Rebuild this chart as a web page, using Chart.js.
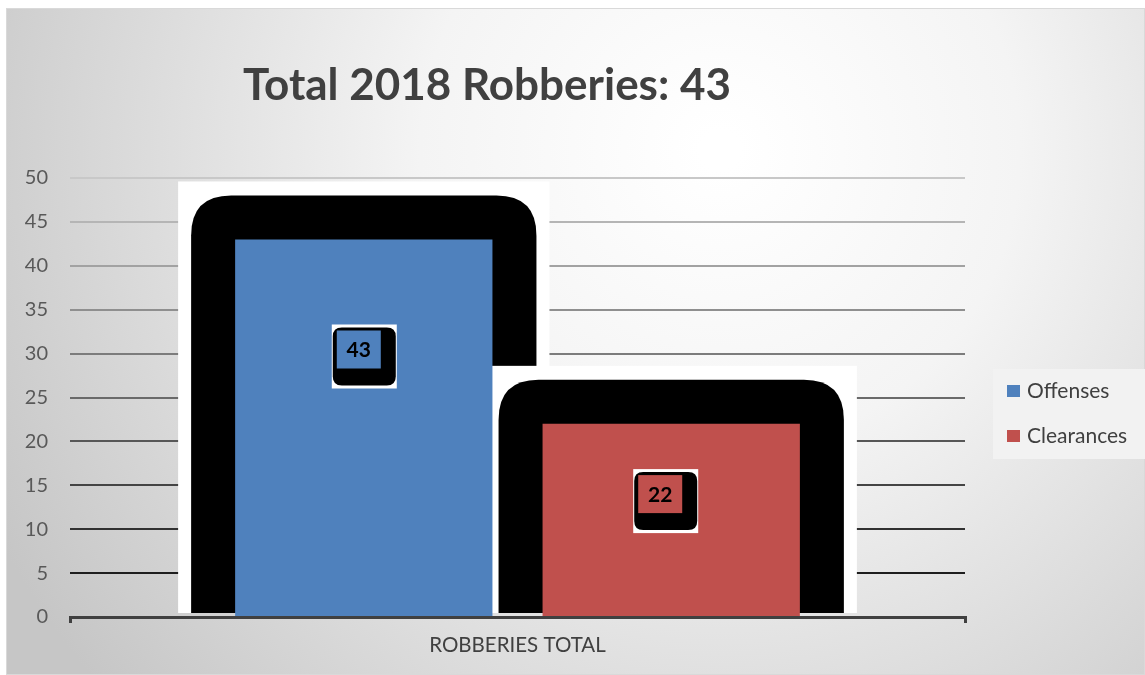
<!DOCTYPE html>
<html lang="en">
<head>
  <meta charset="UTF-8">
  <title>Total 2018 Robberies</title>
  <script src="https://cdn.jsdelivr.net/npm/chart.js"></script>
  <style>
    body { margin: 0; background: #fff; }
    canvas { display: block; }
  </style>
</head>
<body>
  <canvas id="grafico" width="1145" height="675"></canvas>
  <script>
    const categorias = ['ROBBERIES TOTAL'];
    const series = ['Offenses', 'Clearances'];
    const offenses = [43];
    const clearances = [22];
    const cores = ['#4F81BD', '#C0504D'];
    const yTicks = [0, 5, 10, 15, 20, 25, 30, 35, 40, 45, 50];
    // where the value box sits along each bar (fraction of bar height from the base)
    const labelAt = [0.69, 0.6];

    const FONTE = 'Lato, "Open Sans", sans-serif';

    function roundTop(ctx, x1, y1, x2, y2, r) {
      ctx.beginPath();
      ctx.moveTo(x1, y2);
      ctx.lineTo(x1, y1 + r);
      ctx.quadraticCurveTo(x1, y1, x1 + r, y1);
      ctx.lineTo(x2 - r, y1);
      ctx.quadraticCurveTo(x2, y1, x2, y1 + r);
      ctx.lineTo(x2, y2);
      ctx.closePath();
    }

    function roundRect(ctx, x1, y1, x2, y2, r) {
      ctx.beginPath();
      ctx.moveTo(x1 + r, y1);
      ctx.lineTo(x2 - r, y1);
      ctx.quadraticCurveTo(x2, y1, x2, y1 + r);
      ctx.lineTo(x2, y2 - r);
      ctx.quadraticCurveTo(x2, y2, x2 - r, y2);
      ctx.lineTo(x1 + r, y2);
      ctx.quadraticCurveTo(x1, y2, x1, y2 - r);
      ctx.lineTo(x1, y1 + r);
      ctx.quadraticCurveTo(x1, y1, x1 + r, y1);
      ctx.closePath();
    }

    const moldura = {
      id: 'moldura',
      beforeDraw(chart) {
        const ctx = chart.ctx;
        ctx.save();
        const g = ctx.createRadialGradient(720, 150, 20, 720, 150, 820);
        g.addColorStop(0, '#ffffff');
        g.addColorStop(0.35, '#f4f4f4');
        g.addColorStop(1, '#c6c6c6');
        ctx.fillStyle = g;
        ctx.fillRect(6, 8, 1139, 667);
        ctx.strokeStyle = '#d9d9d9';
        ctx.lineWidth = 1;
        ctx.strokeRect(6.5, 8.5, 1138, 666);

        // title
        ctx.fillStyle = '#404040';
        ctx.font = 'bold 44px ' + FONTE;
        ctx.textAlign = 'center';
        ctx.textBaseline = 'middle';
        ctx.fillText('Total 2018 Robberies: 43', 487, 86);

        // legend
        ctx.fillStyle = '#f2f2f2';
        ctx.fillRect(993, 369, 152, 90);
        ctx.font = '21px ' + FONTE;
        ctx.textAlign = 'left';
        const ys = [391, 436];
        series.forEach((s, i) => {
          ctx.fillStyle = cores[i];
          ctx.fillRect(1007, ys[i] - 6, 13, 12);
          ctx.fillStyle = '#404040';
          ctx.fillText(s, 1027, ys[i]);
        });
        ctx.restore();
      },
      beforeDatasetsDraw(chart) {
        const ctx = chart.ctx;
        const base = chart.chartArea.bottom - 4;
        ctx.save();
        chart.data.datasets.forEach((ds, i) => {
          chart.getDatasetMeta(i).data.forEach(bar => {
            const p = bar.getProps(['x', 'y', 'width'], true);
            const x1 = p.x - p.width / 2, x2 = p.x + p.width / 2;
            ctx.fillStyle = '#ffffff';
            ctx.fillRect(x1 - 57, p.y - 58, p.width + 114, base - p.y + 58);
            ctx.fillStyle = '#000000';
            roundTop(ctx, x1 - 44, p.y - 44, x2 + 44, base, 40);
            ctx.fill();
          });
        });
        ctx.restore();
      },
      afterDatasetsDraw(chart) {
        const ctx = chart.ctx;
        const y0 = chart.scales.y.getPixelForValue(0);
        ctx.save();
        chart.data.datasets.forEach((ds, i) => {
          chart.getDatasetMeta(i).data.forEach((bar, j) => {
            const p = bar.getProps(['x', 'y'], true);
            const cx = p.x + (i === 0 ? 1 : -5);
            const cy = y0 - (y0 - p.y) * labelAt[i];
            ctx.fillStyle = '#ffffff';
            ctx.fillRect(cx - 33, cy - 32, 65, 64);
            ctx.fillStyle = '#000000';
            roundRect(ctx, cx - 32, cy - 29, cx + 31, cy + 29, 9);
            ctx.fill();
            ctx.fillStyle = cores[i];
            ctx.fillRect(cx - 28, cy - 26, 44, 38);
            ctx.fillStyle = '#000000';
            ctx.font = 'bold 21px ' + FONTE;
            ctx.textAlign = 'center';
            ctx.textBaseline = 'middle';
            ctx.fillText(String(ds.data[j]), cx - 6, cy - 6);
          });
        });
        ctx.restore();
      }
    };

    function corGrade(ctx) {
      const v = ctx.tick ? ctx.tick.value : 0;
      if (v === 0) return 'rgba(0,0,0,0)';
      const n = Math.round(30 + (v - 5) / 45 * 170);
      return `rgb(${n},${n},${n})`;
    }

    new Chart(document.getElementById('grafico'), {
      type: 'bar',
      data: {
        labels: categorias,
        datasets: [
          { label: series[0], data: offenses, backgroundColor: cores[0] },
          { label: series[1], data: clearances, backgroundColor: cores[1] }
        ]
      },
      options: {
        responsive: false,
        animation: false,
        devicePixelRatio: 1,
        layout: { padding: { left: 0, top: 178, right: 180, bottom: 0 } },
        datasets: { bar: { categoryPercentage: 0.687, barPercentage: 0.837 } },
        plugins: {
          legend: { display: false },
          title: { display: false },
          tooltip: { enabled: false }
        },
        scales: {
          x: {
            border: { display: true, color: '#404040', width: 3 },
            grid: { display: true, drawOnChartArea: false, drawTicks: true, tickLength: 6, color: '#404040', lineWidth: 3 },
            ticks: { color: '#404040', padding: 10, font: { family: FONTE, size: 20.5 } },
            afterFit(scale) { scale.height = 58; }
          },
          y: {
            min: 0,
            max: 50,
            afterBuildTicks(scale) { scale.ticks = yTicks.map(v => ({ value: v })); },
            border: { display: false },
            grid: { color: corGrade, lineWidth: 2, drawTicks: false },
            ticks: { color: '#595959', padding: 22, font: { family: FONTE, size: 20 } },
            afterFit(scale) { scale.width = 70; }
          }
        }
      },
      plugins: [moldura]
    });
  </script>
</body>
</html>
